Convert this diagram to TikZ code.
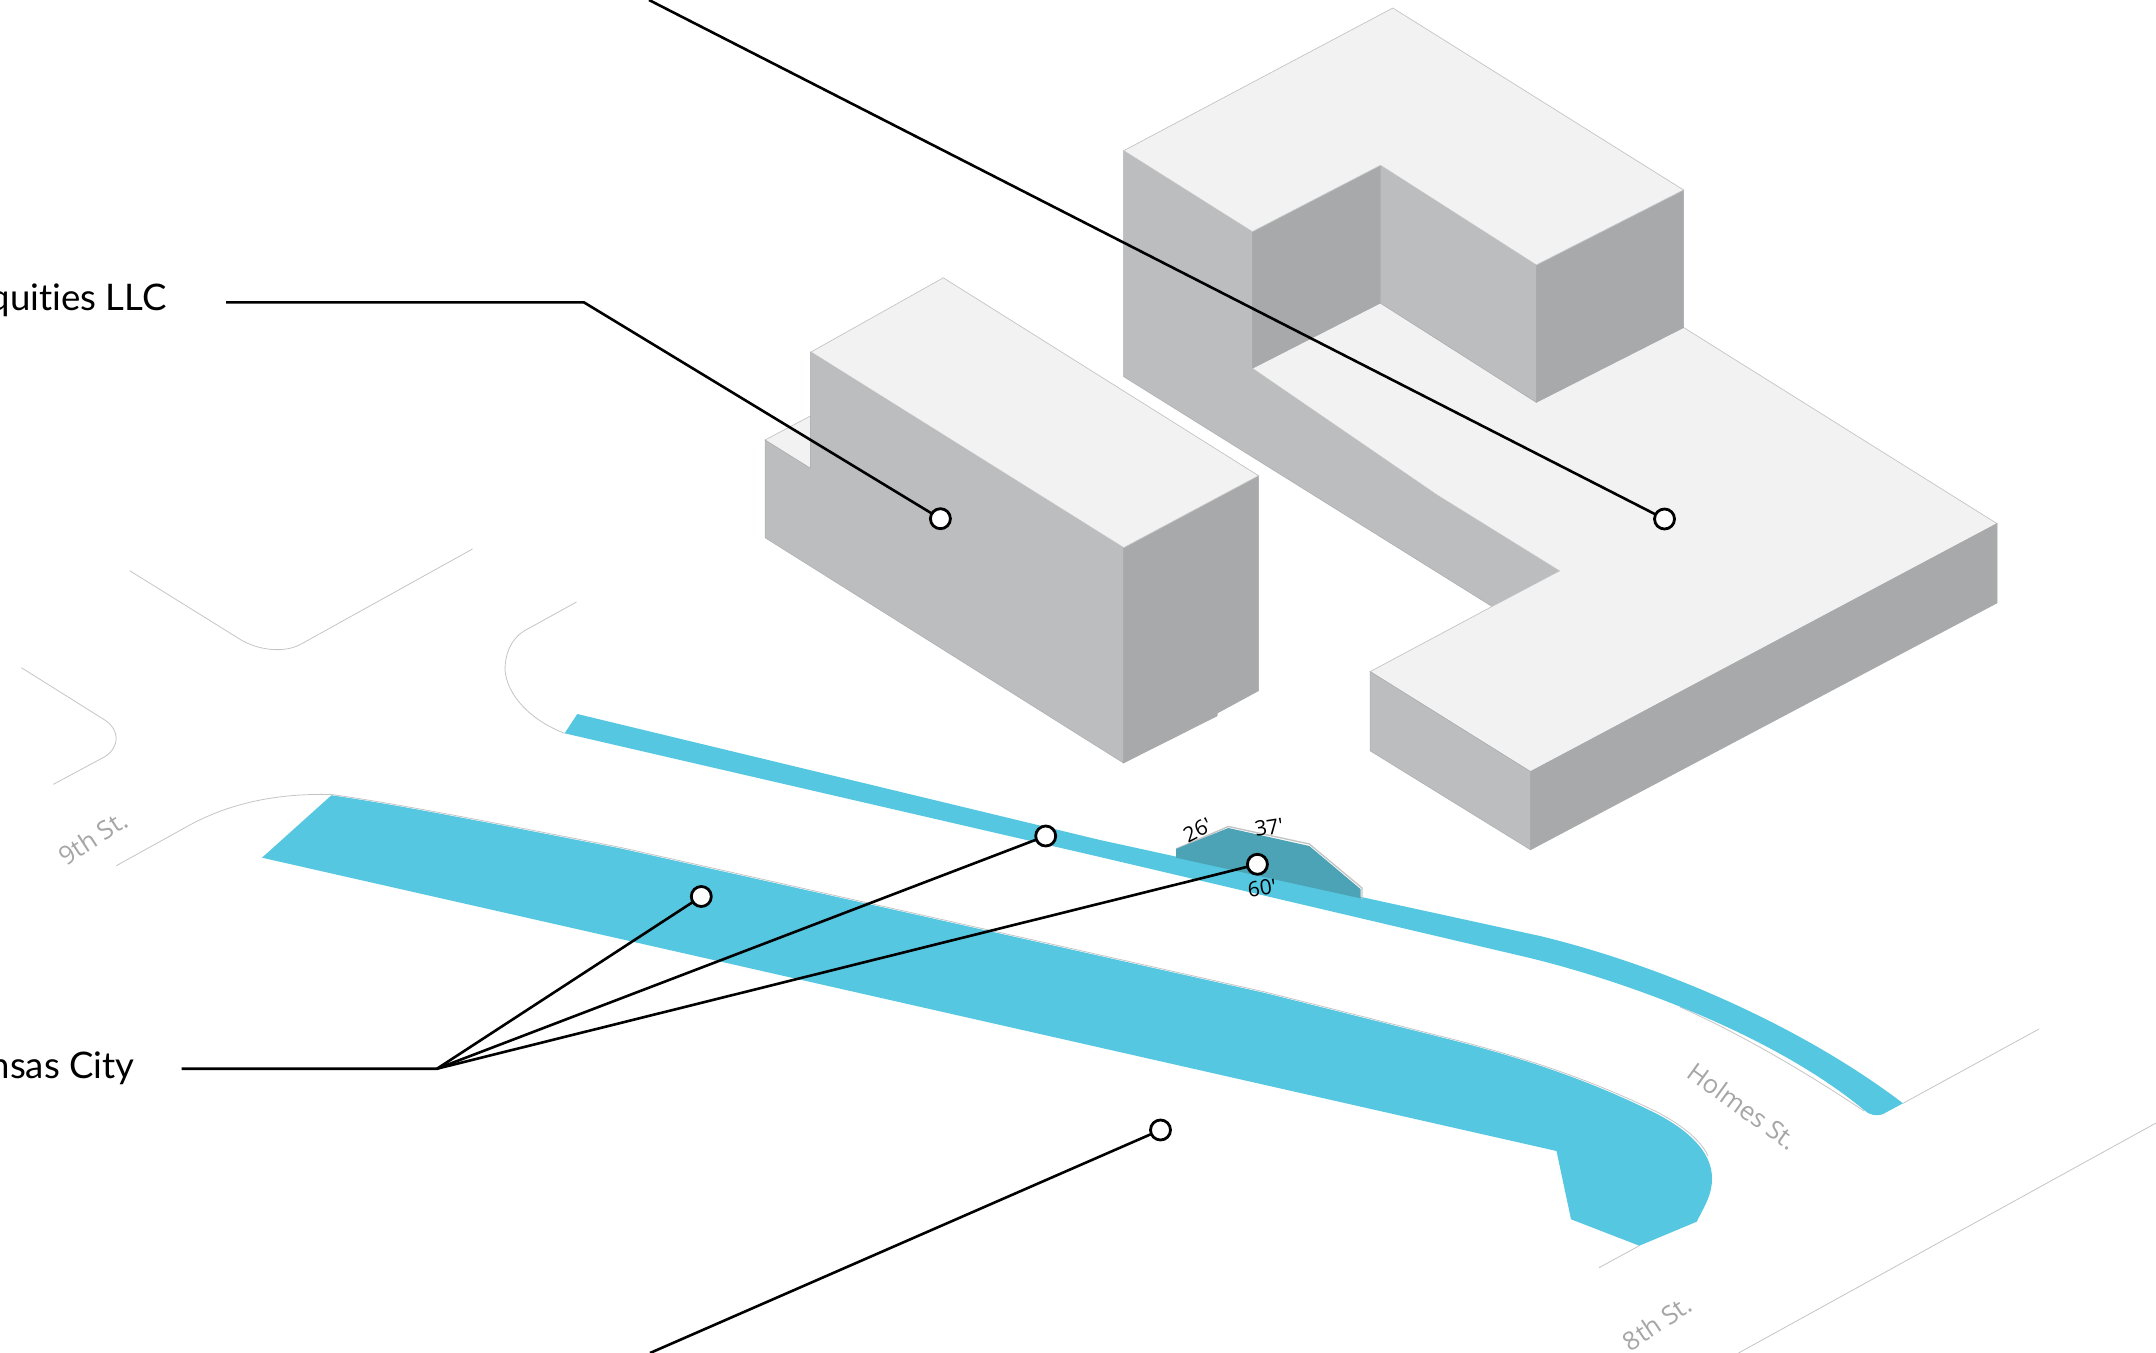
\documentclass[tikz,border=0pt]{standalone}
\usepackage{fontspec}
\setmainfont{Lato}[Ligatures=NoCommon]
\newfontfamily\streetfont{Open Sans}
\definecolor{roofc}{HTML}{F2F2F2}
\definecolor{lightwall}{HTML}{BCBDBF}
\definecolor{darkwall}{HTML}{A7A9AB}
\definecolor{bluec}{HTML}{55C7E1}
\definecolor{tealc}{HTML}{4CA3B6}
\definecolor{curbc}{HTML}{C4C4C4}
\definecolor{streetc}{HTML}{A6A6A6}
\tikzset{
  roof/.style={fill=roofc,draw=curbc,line width=0.35pt,line join=miter},
  lwall/.style={fill=lightwall,draw=lightwall!92!black,line width=0.25pt},
  dwall/.style={fill=darkwall,draw=darkwall,line width=0.25pt},
  curb/.style={draw=curbc,line width=0.4pt},
  blueshape/.style={fill=bluec},
  leader/.style={draw=black,line width=1.3pt,line join=miter},
  marker/.style={circle,draw=black,fill=white,line width=1.4pt,minimum size=10pt,inner sep=0pt,outer sep=0pt},
  mainlabel/.style={font=\fontsize{18.3}{20}\selectfont,text=black,inner sep=0pt,anchor=base east},
  streetlabel/.style={font=\streetfont\fontsize{12.8}{14}\selectfont,text=streetc,inner sep=0pt},
  dimlabel/.style={font=\streetfont\fontsize{10.5}{12}\selectfont,text=black,inner sep=0pt}
}
\begin{document}
\begin{tikzpicture}[x=0.5pt,y=-0.5pt]
\useasboundingbox (0,0) rectangle (2156,1353);
% road edges
\draw[curb] (129.7,570.7) -- (241.2,640) .. controls (258,650) and (285,654) .. (302.5,643.3) -- (472.5,549);
\draw[curb] (21.4,667.7) -- (104.8,720) .. controls (120,730) and (120,747) .. (104.8,756.7) -- (53.4,784.3);
\draw[curb] (576.5,602) -- (524,631) .. controls (510,640) and (505,655) .. (505,670) .. controls (507,695) and (530,720) .. (564.6,733.3);
\draw[curb] (116.3,865.7) -- (189.8,825) .. controls (225,806) and (270,793) .. (331.4,794.5) .. controls (400,804) and (500,824) .. (620,847.3) -- (1265,992) -- (1440,1036) .. controls (1520,1056) and (1590,1079) .. (1659,1113) .. controls (1685,1127) and (1702,1142) .. (1708,1156);
\draw[curb] (1680,1007) .. controls (1745,1036) and (1810,1075) .. (1864,1111);
\draw[curb] (1599,1267.7) -- (1639.3,1245.7);
\draw[curb] (1738.5,1353) -- (2156,1123);
\draw[curb] (1903,1103.3) -- (2039,1029);
% lower-right blue strip and large blue area
\fill[blueshape] (564.6,733.3) -- (577.3,714) -- (1100,840) -- (1540,936)
  .. controls (1660,965) and (1800,1025) .. (1903,1103.3) -- (1884,1113.5)
  .. controls (1877,1117) and (1869,1115) .. (1864,1110)
  .. controls (1780,1040) and (1640,985) .. (1530,958) -- (1100,857) -- cycle;
\fill[blueshape] (331.4,795.3) .. controls (400,805) and (500,825) .. (620,848.3) -- (1265,993) -- (1440,1037)
  .. controls (1520,1057) and (1590,1080) .. (1659,1115)
  .. controls (1685,1129) and (1712,1150) .. (1712,1178.3)
  .. controls (1712,1195) and (1705,1205) .. (1696.7,1221.7)
  -- (1639.3,1245.7) -- (1571,1219.3) -- (1556.5,1151) -- (262,857.7) -- cycle;
% dimensioned footprint
\draw[curbc,line width=0.7pt] (1176,849) -- (1228.3,826.5) -- (1309.3,844) -- (1362,888) -- (1362,899);
\fill[tealc] (1176,849) -- (1228.3,828) -- (1309.3,846) -- (1360.5,889) -- (1360.5,898.3) -- (1176,857.7) -- cycle;
% middle building
\path[roof] (765,440) -- (810.4,416) -- (810.4,468.3) -- cycle;
\path[lwall] (810.4,352) -- (1123.7,547.7) -- (1123.5,763) -- (765,537.7) -- (765,440) -- (810.4,468.3) -- cycle;
\path[dwall] (1123.7,547.7) -- (1258.6,475.7) -- (1258.6,690.7) -- (1217.5,713) -- (1217,716) -- (1123.5,763) -- cycle;
\path[roof] (811,352) -- (943.3,277.8) -- (1258.6,475.7) -- (1123.7,547.7) -- cycle;
% large building
\path[lwall] (1123.7,150.7) -- (1252.3,231.7) -- (1252.3,368.3) -- (1437,495) -- (1559.4,570.9) -- (1492,606.5) -- (1123.7,376.7) -- cycle;
\path[roof] (1252.3,368.3) -- (1380.3,303) -- (1536.3,402.3) -- (1683.6,327.5) -- (1997,523.6) -- (1530.5,771.6) -- (1370.2,671.6) -- (1492,606.5) -- (1559.4,570.9) -- (1437,495) -- cycle;
\path[dwall] (1252.3,231.7) -- (1380.5,165.3) -- (1380.3,303) -- (1252.3,368.3) -- cycle;
\path[lwall] (1380.5,165.3) -- (1536.3,265) -- (1536.3,402.3) -- (1380.3,303) -- cycle;
\path[dwall] (1536.3,265) -- (1683.6,190) -- (1683.6,327.5) -- (1536.3,402.3) -- cycle;
\path[roof] (1123.7,150.7) -- (1392.8,8) -- (1683.6,190) -- (1536.3,265) -- (1380.5,165.3) -- (1252.3,231.7) -- cycle;
\path[lwall] (1370.2,671.6) -- (1530.5,771.6) -- (1530.5,849.8) -- (1370.2,750.9) -- cycle;
\path[dwall] (1530.5,771.6) -- (1997,523.6) -- (1997,603) -- (1530.5,849.8) -- cycle;
% labels
\node[mainlabel] (lblequities) at (167,311) {quities LLC};
\node[mainlabel] (lblkc) at (135,1078.5) {nsas City};
\node[streetlabel,rotate=33] (st9) at (93,838) {9th St.};
\node[streetlabel,rotate=-36] (stholmes) at (1742.5,1106) {Holmes St.};
\node[streetlabel,rotate=34] (st8) at (1657,1323) {8th St.};
\node[dimlabel,rotate=27] (d26) at (1197.5,830) {26'};
\node[dimlabel,rotate=9] (d37) at (1269,827.3) {37'};
\node[dimlabel,rotate=8] (d60) at (1262,888) {60'};
% markers
\node[marker] (mtop) at (1664.5,519) {};
\node[marker] (mmid) at (940.4,518.7) {};
\node[marker] (ma) at (701.3,896.5) {};
\node[marker] (mb) at (1045.7,836) {};
\node[marker] (mc) at (1257.4,864.3) {};
\node[marker] (md) at (1160.5,1130) {};
% connector ends
\coordinate (ftop) at (649,0);
\coordinate (feq) at (226,302.4);
\coordinate (beq) at (584,302.4);
\coordinate (fkc) at (181.7,1068.7);
\coordinate (bkc) at (437,1068.7);
\coordinate (fbot) at (650,1353);
% connectors
\draw[leader] (ftop) -- (mtop);
\draw[leader] (feq) -- (beq) -- (mmid);
\draw[leader] (fkc) -- (bkc) -- (ma);
\draw[leader] (bkc) -- (mb);
\draw[leader] (bkc) -- (mc);
\draw[leader] (fbot) -- (md);
\end{tikzpicture}
\end{document}
